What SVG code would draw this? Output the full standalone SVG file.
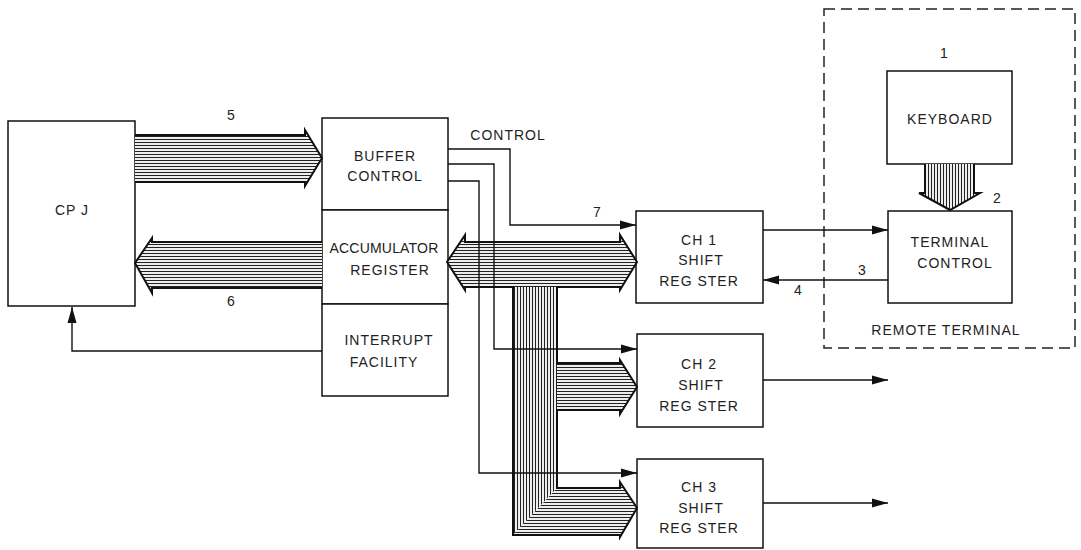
<svg xmlns="http://www.w3.org/2000/svg" width="1081" height="550" viewBox="0 0 1081 550">
<defs>
<style>
.box{fill:#fff;stroke:#111;stroke-width:1.5}
.t{font-family:"Liberation Sans",Arial,sans-serif;font-size:14px;fill:#222;text-anchor:middle;letter-spacing:1px}
.n{font-family:"Liberation Sans",Arial,sans-serif;font-size:14px;fill:#222;text-anchor:middle}
.ln{fill:none;stroke:#111;stroke-width:1.4}
.out{fill:none;stroke:#111;stroke-width:2;stroke-linejoin:miter}
.hh{fill:url(#hatchH);stroke:none}
.hv{fill:url(#hatchV);stroke:none}
</style>
<pattern id="hatchH" patternUnits="userSpaceOnUse" width="6" height="3">
<rect width="6" height="3" fill="#fff"/>
<line x1="0" y1="1.5" x2="6" y2="1.5" stroke="#222" stroke-width="1.15"/>
</pattern>
<pattern id="hatchV" patternUnits="userSpaceOnUse" width="3" height="6">
<rect width="3" height="6" fill="#fff"/>
<line x1="1.5" y1="0" x2="1.5" y2="6" stroke="#222" stroke-width="1.15"/>
</pattern>
<marker id="ah" markerUnits="userSpaceOnUse" markerWidth="17" markerHeight="10" refX="16" refY="5" orient="auto">
<path d="M0,0.5 L16,5 L0,9.5 z" fill="#111"/>
</marker>
</defs>
<rect width="1081" height="550" fill="#fff"/>

<g id="remote-terminal">
<rect x="824" y="9" width="251" height="339" fill="none" stroke="#222" stroke-width="1.5" stroke-dasharray="11 6"/>
<text class="t" x="946" y="335">REMOTE TERMINAL</text>
</g>

<g id="cpu">
<rect class="box" x="8" y="121" width="127" height="185"/>
<text class="t" x="72" y="215">CP J</text>
</g>

<g id="buffer-control">
<rect class="box" x="322" y="118" width="126" height="92"/>
<text class="t" x="385" y="161">BUFFER</text>
<text class="t" x="385" y="181">CONTROL</text>
</g>

<g id="accumulator-register">
<rect class="box" x="322" y="210" width="126" height="94"/>
<text class="t" x="384" y="253" style="letter-spacing:0.2px">ACCUMULATOR</text>
<text class="t" x="390" y="275">REGISTER</text>
</g>

<g id="interrupt-facility">
<rect class="box" x="322" y="304" width="126" height="92"/>
<text class="t" x="389" y="345">INTERRUPT</text>
<text class="t" x="384" y="367">FACILITY</text>
</g>

<g id="ch1">
<rect class="box" x="636" y="211" width="127" height="92"/>
<text class="t" x="699" y="245">CH 1</text>
<text class="t" x="701" y="265">SHIFT</text>
<text class="t" x="699" y="286">REG STER</text>
</g>

<g id="ch2">
<rect class="box" x="637" y="334" width="126" height="93"/>
<text class="t" x="699" y="369">CH 2</text>
<text class="t" x="701" y="390">SHIFT</text>
<text class="t" x="699" y="411">REG STER</text>
</g>

<g id="ch3">
<rect class="box" x="637" y="459" width="126" height="89"/>
<text class="t" x="699" y="492">CH 3</text>
<text class="t" x="701" y="513">SHIFT</text>
<text class="t" x="699" y="533">REG STER</text>
</g>

<g id="keyboard">
<rect class="box" x="887" y="71" width="125" height="93"/>
<text class="t" x="950" y="124">KEYBOARD</text>
</g>

<g id="terminal-control">
<rect class="box" x="888" y="211" width="124" height="92"/>
<text class="t" x="950" y="247">TERMINAL</text>
<text class="t" x="955" y="268">CONTROL</text>
</g>

<g id="connectors">
<path class="hh" d="M135,135 L305,135 L305,130 L322,158 L305,186 L305,182 L135,182 Z"/>
<path class="out" d="M135,135 L305,135 L305,130 L322,158 L305,186 L305,182 L135,182"/>
<path class="hh" d="M322,242 L152,242 L152,238 L135,263 L152,293 L152,288 L322,288 Z"/>
<path class="out" d="M322,242 L152,242 L152,238 L135,263 L152,293 L152,288 L322,288"/>
<path class="hv" d="M925,164 L974,164 L974,193 L980,193 L950,210 L919,193 L925,193 Z"/>
<path class="out" d="M925,164 L925,193 L919,193 L950,210 L980,193 L974,193 L974,164"/>
<path class="hh" d="M447,262 L465,235 L465,242 L620,242 L620,235 L637,262 L620,290 L620,287 L465,287 L465,290 Z"/>
<path class="hv" d="M513,287 L557,287 L557,488 L513,535 Z"/>
<path class="hh" d="M557,363 L620,363 L620,360 L637,387 L620,414 L620,410 L557,410 Z"/>
<path class="hh" d="M557,488 L620,488 L620,482 L637,508 L620,537 L620,535 L513,535 Z"/>
<path class="out" d="M447,262 L465,235 L465,242 L620,242 L620,235 L637,262 L620,290 L620,287 L557,287 L557,363 L620,363 L620,360 L637,387 L620,414 L620,410 L557,410 L557,488 L620,488 L620,482 L637,508 L620,537 L620,535 L513,535 L513,287 L465,287 L465,290 Z"/>
<path class="ln" d="M448,149 L510,149 L510,225 L636,225" marker-end="url(#ah)"/>
<path class="ln" d="M448,164 L494,164 L494,349 L637,349" marker-end="url(#ah)"/>
<path class="ln" d="M448,181 L479,181 L479,473 L637,473" marker-end="url(#ah)"/>
<path class="ln" d="M322,351 L72,351 L72,307" marker-end="url(#ah)"/>
<path class="ln" d="M763,230 L888,230" marker-end="url(#ah)"/>
<path class="ln" d="M888,280 L763,280" marker-end="url(#ah)"/>
<path class="ln" d="M763,380 L888,380" marker-end="url(#ah)"/>
<path class="ln" d="M763,503 L888,503" marker-end="url(#ah)"/>
<text class="t" x="508" y="140">CONTROL</text>
<text class="n" x="231" y="120">5</text>
<text class="n" x="231" y="306">6</text>
<text class="n" x="597" y="217">7</text>
<text class="n" x="944" y="58">1</text>
<text class="n" x="997" y="203">2</text>
<text class="n" x="862" y="275">3</text>
<text class="n" x="798" y="295">4</text>
</g>
</svg>
